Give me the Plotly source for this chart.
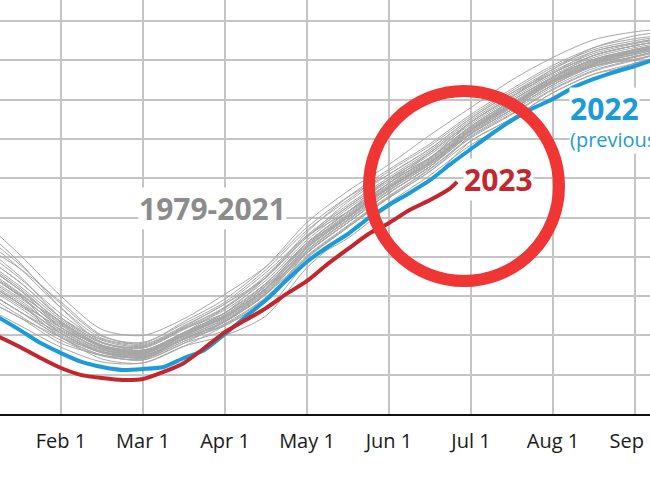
import plotly.graph_objects as go

# x positions in "months since Jan 1" (1 = Feb 1, 2 = Mar 1, ...)
GRAY_X = [0.0, 0.5, 1.0, 1.5, 2.0, 2.5, 3.0, 3.5, 4.0, 4.5, 5.0, 5.5, 6.0, 6.5, 7.0, 7.5, 8.0, 8.5]

# 1979-2021 sea ice extent (million km²), one list per year-line
GRAY_LINES = [
    [10.0, 8.1, 6.0, 4.3, 4.0, 4.85, 6.1, 7.5, 9.5, 11.05, 12.2, 13.5, 15.05, 16.35, 17.55, 18.65, 19.1, 19.35],
    [6.0, 4.9, 3.6, 3.0, 2.75, 3.6, 4.25, 5.3, 7.7, 8.95, 10.55, 11.9, 13.9, 15.05, 16.35, 17.3, 17.7, 18.25],
    [7.8, 6.3, 4.7, 3.5, 3.25, 4.15, 5.4, 6.95, 9.0, 10.55, 11.95, 13.05, 14.65, 15.95, 17.15, 18.05, 18.55, 18.95],
    [6.9, 5.6, 4.1, 3.15, 2.9, 4.0, 4.95, 6.4, 8.2, 9.75, 11.25, 12.6, 14.45, 15.7, 16.95, 17.7, 18.2, 18.7],
    [8.7, 7.4, 5.7, 4.0, 3.55, 4.5, 5.6, 7.2, 9.05, 10.3, 11.75, 13.05, 14.85, 16.15, 17.35, 18.25, 18.75, 19.1],
    [6.5, 5.2, 3.9, 3.0, 2.95, 3.8, 4.7, 6.1, 7.95, 9.5, 11.0, 12.35, 14.1, 15.3, 16.55, 17.5, 18.05, 18.55],
    [7.4, 6.0, 4.4, 3.3, 3.1, 4.0, 5.15, 6.65, 8.7, 10.3, 11.5, 12.8, 14.25, 15.5, 16.75, 17.85, 18.4, 18.8],
    [8.2, 6.7, 4.9, 3.8, 3.5, 4.45, 5.6, 6.95, 9.0, 10.8, 12.2, 13.5, 15.05, 16.35, 17.35, 18.25, 18.75, 19.1],
    [9.1, 7.4, 5.4, 3.85, 3.6, 4.7, 5.85, 7.5, 9.75, 11.35, 12.7, 14.2, 15.6, 17.0, 18.15, 19.05, 19.45, 19.65],
    [5.6, 4.5, 3.4, 2.65, 2.6, 3.45, 4.0, 5.0, 7.45, 9.2, 10.75, 12.15, 13.7, 14.85, 16.15, 17.1, 17.85, 18.4],
    [7.4, 6.05, 4.7, 3.5, 3.2, 4.15, 4.95, 6.4, 8.45, 10.0, 11.75, 13.05, 14.65, 15.95, 17.15, 18.05, 18.4, 18.8],
    [6.9, 5.6, 3.9, 3.0, 2.75, 3.6, 4.7, 6.1, 8.45, 10.05, 11.5, 12.8, 14.45, 15.7, 16.95, 17.85, 18.55, 18.95],
    [7.8, 6.3, 4.4, 3.3, 3.0, 3.8, 4.7, 6.15, 8.2, 9.75, 11.25, 12.6, 14.25, 15.5, 16.75, 17.7, 18.2, 18.7],
    [8.2, 6.7, 4.9, 3.65, 3.4, 4.35, 5.15, 6.65, 8.7, 10.3, 11.75, 13.3, 14.85, 16.15, 17.55, 18.45, 18.9, 19.25],
    [6.5, 5.2, 4.1, 3.15, 2.85, 3.8, 4.5, 5.8, 8.2, 9.75, 11.25, 12.6, 14.25, 15.5, 16.75, 17.7, 18.05, 18.55],
    [7.4, 6.0, 4.1, 3.15, 2.9, 3.85, 4.7, 6.4, 8.45, 10.0, 11.5, 12.8, 14.45, 15.95, 17.15, 18.05, 18.55, 18.95],
    [9.6, 7.7, 5.4, 3.65, 3.4, 4.35, 5.4, 6.95, 9.25, 11.05, 12.45, 13.75, 15.25, 16.55, 17.75, 18.65, 19.25, 19.5],
    [6.0, 4.9, 3.9, 3.15, 3.05, 4.15, 5.15, 6.65, 8.7, 10.0, 11.5, 12.8, 14.45, 15.7, 16.95, 17.7, 18.2, 18.7],
    [7.8, 6.3, 4.7, 3.5, 3.05, 4.0, 4.95, 6.4, 8.45, 10.0, 11.5, 12.8, 14.45, 15.7, 17.15, 18.05, 18.55, 18.95],
    [6.9, 5.6, 4.4, 3.3, 3.05, 4.0, 4.95, 6.4, 8.7, 10.3, 11.75, 13.05, 14.65, 15.95, 17.15, 18.25, 18.75, 19.1],
    [6.5, 5.2, 3.9, 2.8, 2.6, 3.45, 4.5, 5.8, 7.95, 9.5, 11.0, 12.35, 13.9, 15.05, 16.35, 17.3, 17.85, 18.4],
    [8.7, 7.0, 4.9, 3.65, 3.25, 4.15, 5.15, 6.95, 9.0, 10.55, 11.95, 13.3, 14.85, 16.15, 17.35, 18.45, 18.9, 19.25],
    [7.4, 6.0, 4.4, 3.5, 3.25, 4.15, 5.15, 6.65, 8.7, 10.3, 11.95, 13.3, 14.85, 16.15, 17.35, 18.25, 18.75, 19.1],
    [6.9, 5.6, 4.1, 3.15, 2.9, 3.8, 4.7, 6.1, 8.2, 9.75, 11.25, 12.6, 14.25, 15.5, 16.95, 17.85, 18.4, 18.8],
    [7.1, 5.8, 4.25, 3.25, 3.0, 3.9, 4.85, 6.3, 8.35, 9.9, 11.4, 12.7, 14.35, 15.6, 16.85, 17.8, 18.3, 18.75],
    [7.6, 6.15, 4.55, 3.4, 3.15, 4.1, 5.05, 6.55, 8.55, 10.15, 11.6, 12.95, 14.55, 15.8, 17.05, 17.95, 18.45, 18.85],
    [8.0, 6.5, 4.8, 3.6, 3.35, 4.3, 5.3, 6.8, 8.85, 10.45, 11.85, 13.2, 14.75, 16.05, 17.25, 18.15, 18.65, 19.0],
    [6.7, 5.4, 4.0, 3.1, 2.85, 3.7, 4.6, 5.95, 8.05, 9.6, 11.1, 12.45, 14.15, 15.4, 16.65, 17.6, 18.15, 18.6],
    [7.2, 5.9, 4.5, 3.4, 3.1, 3.95, 4.8, 6.25, 8.3, 9.85, 11.35, 12.75, 14.4, 15.65, 16.9, 17.8, 18.35, 18.8],
    [8.5, 6.9, 5.1, 3.75, 3.45, 4.4, 5.45, 7.05, 9.1, 10.65, 12.05, 13.4, 14.95, 16.25, 17.45, 18.35, 18.85, 19.2],
    [6.3, 5.0, 3.75, 2.95, 2.8, 3.7, 4.55, 5.9, 8.0, 9.55, 11.05, 12.5, 14.05, 15.25, 16.5, 17.45, 18.0, 18.5],
    [7.5, 6.1, 4.6, 3.45, 3.2, 4.05, 5.0, 6.5, 8.6, 10.2, 11.65, 13.0, 14.6, 15.85, 17.1, 18.0, 18.5, 18.9],
    [9.3, 7.6, 5.6, 3.95, 3.65, 4.6, 5.7, 7.35, 9.35, 10.9, 12.35, 13.65, 15.15, 16.45, 17.65, 18.55, 19.0, 19.3],
    [6.8, 5.5, 4.2, 3.2, 2.95, 3.85, 4.75, 6.2, 8.3, 9.9, 11.4, 12.7, 14.3, 15.6, 16.85, 17.75, 18.3, 18.75],
    [7.9, 6.4, 4.65, 3.45, 3.15, 4.05, 5.05, 6.55, 8.6, 10.1, 11.55, 12.9, 14.5, 15.75, 17.0, 17.95, 18.45, 18.85],
    [7.0, 5.7, 4.3, 3.35, 3.1, 4.0, 4.9, 6.35, 8.5, 10.05, 11.55, 12.85, 14.5, 15.8, 17.0, 17.9, 18.45, 18.85],
]

# 2022 (previous record low)
BLUE_X = [0.0, 0.25, 0.5, 0.75, 1.0, 1.25, 1.5, 1.75, 2.0, 2.25, 2.5, 2.75, 3.0, 3.25, 3.5, 3.75, 4.0,
          4.25, 4.5, 4.75, 5.0, 5.25, 5.5, 5.75, 6.0, 6.25, 6.5, 6.75, 7.0, 7.25, 7.5, 7.75, 8.0, 8.25]
BLUE_Y = [5.5, 4.89, 4.27, 3.61, 3.10, 2.65, 2.39, 2.24, 2.29, 2.39, 2.85, 3.26, 4.07, 4.95, 5.80, 6.80, 7.75,
          8.50, 9.16, 9.97, 10.64, 11.25, 11.90, 12.72, 13.49, 14.25, 14.96, 15.55, 16.03, 16.62, 17.05, 17.40, 17.71, 18.07]

# 2023
RED_X = [0.0, 0.25, 0.5, 0.75, 1.0, 1.25, 1.5, 1.75, 2.0, 2.25, 2.5, 2.75, 3.0, 3.25, 3.5, 3.75, 4.0,
         4.25, 4.5, 4.75, 5.0, 5.25, 5.5, 5.75, 5.83]
RED_Y = [4.4, 3.92, 3.41, 2.85, 2.34, 1.98, 1.83, 1.73, 1.78, 2.14, 2.60, 3.36, 4.17, 4.78, 5.39, 6.11, 6.77,
         7.63, 8.40, 9.16, 9.72, 10.38, 10.89, 11.50, 11.81]

TICK_VALS = [1, 2, 3, 4, 5, 6, 7, 8]
TICK_TEXT = ["Feb 1", "Mar 1", "Apr 1", "May 1", "Jun 1", "Jul 1", "Aug 1", "Sep 1"]

GRAY = "#a6a6a6"
BLUE = "#1b9bd7"
RED = "#c4262d"
RING = "#f03535"

fig = go.Figure()
for ys in GRAY_LINES:
    fig.add_trace(go.Scatter(x=GRAY_X, y=ys, mode="lines",
                             line=dict(color=GRAY, width=1, shape="spline", smoothing=0.8),
                             hoverinfo="skip", showlegend=False))
fig.add_trace(go.Scatter(x=BLUE_X, y=BLUE_Y, mode="lines",
                         line=dict(color=BLUE, width=4, shape="spline", smoothing=0.6),
                         showlegend=False))
fig.add_trace(go.Scatter(x=RED_X, y=RED_Y, mode="lines",
                         line=dict(color=RED, width=4, shape="spline", smoothing=0.6),
                         showlegend=False))

fig.add_shape(type="circle", xref="paper", yref="paper",
              x0=369 / 650, x1=559 / 650, y0=1 - 281 / 414, y1=1 - 91 / 414,
              line=dict(color=RING, width=12), layer="above")

bold = dict(family="Open Sans", size=30, color="#8c8c8c")
fig.add_annotation(text="<b>1979-2021</b>", xref="paper", yref="paper", x=212.5 / 650, y=1 - 208 / 414,
                   showarrow=False, font=bold, bgcolor="white", borderpad=0, xanchor="center", yanchor="middle")
fig.add_annotation(text="<b>2023</b>", xref="paper", yref="paper", x=498 / 650, y=1 - 180 / 414,
                   showarrow=False, font=dict(family="Open Sans", size=30, color=RED),
                   bgcolor="white", borderpad=0, xanchor="center", yanchor="middle")
fig.add_annotation(text="<b>2022</b>", xref="paper", yref="paper", x=604 / 650, y=1 - 108 / 414,
                   showarrow=False, font=dict(family="Open Sans", size=30, color=BLUE),
                   bgcolor="white", borderpad=0, xanchor="center", yanchor="middle")
fig.add_annotation(text="(previous record low)", xref="paper", yref="paper", x=569 / 650, y=1 - 140 / 414,
                   showarrow=False, font=dict(family="Open Sans", size=20, color=BLUE),
                   bgcolor="white", borderpad=0, xanchor="left", yanchor="middle")

fig.update_layout(
    width=650, height=488,
    margin=dict(l=0, r=0, t=0, b=74, autoexpand=False),
    paper_bgcolor="white", plot_bgcolor="white",
    xaxis=dict(range=[1 - 61 / 82, 1 + 589 / 82], tickvals=TICK_VALS, ticktext=TICK_TEXT,
               showgrid=True, gridcolor="#c4c4c4", gridwidth=1.5, zeroline=False,
               showline=True, linecolor="#111111", linewidth=2, ticks="",
               tickfont=dict(family="Open Sans", size=20, color="#1a1a1a"), ticklabelstandoff=8,
               ticklabeloverflow="allow", automargin=False),
    yaxis=dict(range=[0, 414 / 19.65], dtick=2, tick0=0, showticklabels=False, automargin=False,
               showgrid=True, gridcolor="#c4c4c4", gridwidth=1.5, zeroline=False, ticks=""),
)

fig.write_html("out.html")
